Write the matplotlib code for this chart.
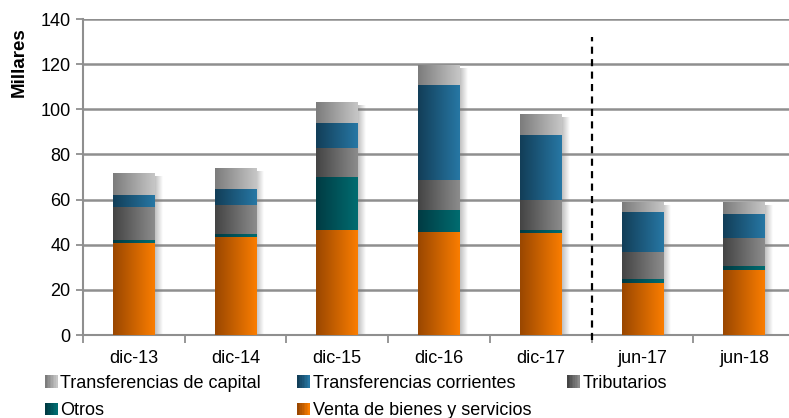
import numpy as np
import matplotlib.pyplot as plt
from matplotlib.colors import to_rgb
from matplotlib.patches import Patch, Rectangle
from matplotlib.legend_handler import HandlerBase

plt.rcParams['font.family'] = ['Liberation Sans', 'DejaVu Sans']

# datos (miles)
periodos = ['dic-13', 'dic-14', 'dic-15', 'dic-16', 'dic-17', 'jun-17', 'jun-18']
venta = [40.8, 43.4, 46.5, 45.6, 45.2, 23.0, 28.8]
otros = [1.3, 1.3, 23.5, 9.8, 1.3, 1.8, 1.8]
tributarios = [14.6, 13.0, 12.9, 13.3, 13.3, 12.0, 12.4]
transf_corr = [5.3, 7.0, 11.0, 42.1, 28.8, 17.7, 10.6]
transf_cap = [9.9, 9.3, 9.3, 8.8, 9.3, 4.4, 5.3]

series = [
    ('Venta de bienes y servicios', venta, ('#9a4700', '#fa7d00')),
    ('Otros', otros, ('#003b43', '#006c70')),
    ('Tributarios', tributarios, ('#444444', '#8c8c8c')),
    ('Transferencias corrientes', transf_corr, ('#123e58', '#2777a4')),
    ('Transferencias de capital', transf_cap, ('#7c7c7c', '#c6c6c6')),
]

fig = plt.figure(figsize=(7.89, 4.18), dpi=100)
ax = fig.add_axes([83 / 789, 1 - 335 / 418, 712 / 789, 316 / 418])

x = np.arange(len(periodos))
ancho = 0.41
gris = '#8f8f8f'


def grad_img(c0, c1, n=64):
    a = np.array(to_rgb(c0))
    b = np.array(to_rgb(c1))
    t = np.linspace(0, 1, n)[:, None]
    return (a * (1 - t) + b * t)[None, :, :]


# sombra a la derecha de cada barra
total = np.sum([s[1] for s in series], axis=0)
sombra = np.zeros((1, 32, 4))
sombra[..., :3] = 0.45
sombra[..., 3] = np.linspace(0.45, 0, 32)
for xi, tot in zip(x, total):
    ax.imshow(sombra, extent=[xi + ancho / 2, xi + ancho / 2 + 0.07, 0, tot - 1.5],
              aspect='auto', interpolation='bilinear', zorder=2)

base = np.zeros(len(periodos))
for nombre, vals, (c0, c1) in series:
    barras = ax.bar(x, vals, ancho, bottom=base, color=c1, edgecolor='none', zorder=3)
    img = grad_img(c0, c1)
    for b in barras:
        bx, by = b.get_x(), b.get_y()
        im = ax.imshow(img, extent=[bx, bx + b.get_width(), by, by + b.get_height()],
                       aspect='auto', interpolation='bilinear', zorder=4)
        im.set_clip_path(b)
    base = base + np.array(vals)

ax.set_xlim(-0.5, len(periodos) - 0.5)
ax.set_ylim(0, 140)
ax.set_yticks(np.arange(0, 141, 20))
ax.yaxis.grid(True, color=gris, lw=1.8, zorder=0)
ax.set_axisbelow(True)

ax.set_xticks(x)
ax.set_xticklabels(periodos, fontsize=13)
ax.set_xticks(np.arange(-0.5, len(periodos), 1), minor=True)
ax.tick_params(axis='x', which='major', length=0, pad=11)
ax.tick_params(axis='x', which='minor', length=6, width=1.3, color=gris)
ax.tick_params(axis='y', length=5, width=1.3, color=gris, labelsize=13, pad=4)

for lado in ['top', 'right']:
    ax.spines[lado].set_visible(False)
for lado in ['left', 'bottom']:
    ax.spines[lado].set_color(gris)
    ax.spines[lado].set_linewidth(1.5)

# linea divisoria entre anuales y semestrales
ax.axvline(4.5, ymin=-0.015, ymax=0.943, color='black', lw=1.6,
           ls=(0, (3.2, 2.4)), clip_on=False, zorder=5)

fig.text(19 / 789, 1 - 62 / 418, 'Millares', rotation=90, fontsize=13.5,
         fontweight='bold', ha='center', va='center')


class GradHandler(HandlerBase):
    def create_artists(self, legend, orig_handle, xdescent, ydescent,
                       width, height, fontsize, trans):
        c0, c1 = orig_handle.colores
        a, b = np.array(to_rgb(c0)), np.array(to_rgb(c1))
        n = 8
        arts = []
        for i in range(n):
            f = i / (n - 1)
            r = Rectangle((-xdescent + width * i / n, -ydescent), width / n + 0.05, height,
                          facecolor=a * (1 - f) + b * f, edgecolor='none', transform=trans)
            arts.append(r)
        return arts


manejadores = {}
for nombre, vals, cols in series:
    p = Patch(label=nombre)
    p.colores = cols
    manejadores[nombre] = p
orden = ['Transferencias de capital', 'Otros', 'Transferencias corrientes',
         'Venta de bienes y servicios', 'Tributarios']
fig.legend([manejadores[n] for n in orden], orden, loc='upper left',
           bbox_to_anchor=(45 / 789, 1 - 375 / 418), ncol=3, frameon=False,
           fontsize=13, handlelength=0.7, handleheight=0.7, handletextpad=0.15,
           columnspacing=2.0, labelspacing=0.58, borderpad=0, borderaxespad=0,
           handler_map={Patch: GradHandler()})

fig.savefig('out.png', dpi=100)
